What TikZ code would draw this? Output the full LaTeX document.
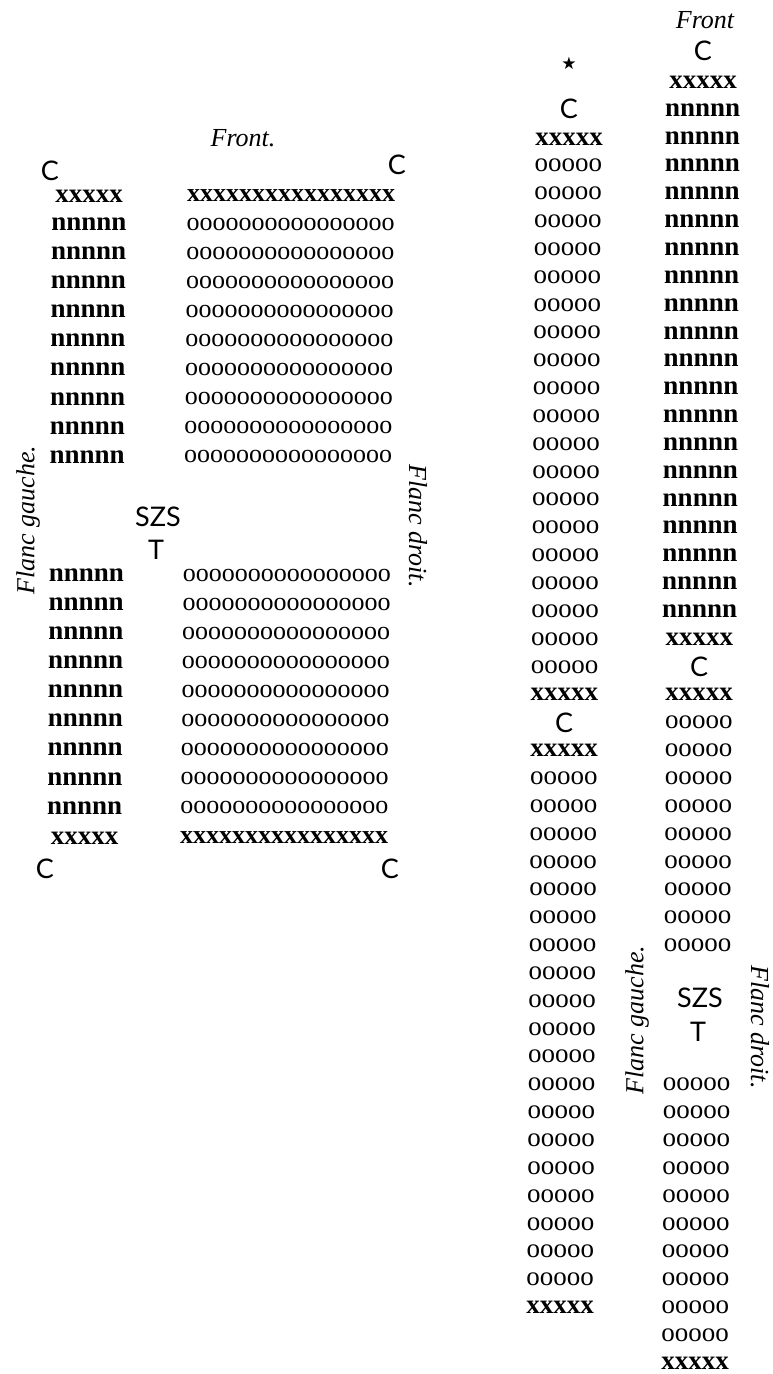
\documentclass[tikz,border=0pt]{standalone}
\usepackage{fontspec}
\setmainfont{Liberation Serif}
\newfontfamily\rowfont{Liberation Serif}
\newfontfamily\capfont{Lato}
\newfontfamily\starfont{DejaVu Sans}
\begin{document}
\begin{tikzpicture}[x=1pt,y=-1pt,
  rowo/.style={font=\rowfont\fontsize{27}{27}\selectfont, inner sep=0pt},
  longo/.style={font=\rowfont\fontsize{26}{26}\selectfont, inner sep=0pt},
  rown/.style={font=\rowfont\bfseries\fontsize{27}{27}\selectfont, inner sep=0pt},
  rowx/.style={font=\rowfont\bfseries\fontsize{27}{27}\selectfont, inner sep=0pt},
  longx/.style={font=\rowfont\bfseries\fontsize{26}{26}\selectfont, inner sep=0pt},
  capc/.style={font=\capfont\fontsize{27}{27}\selectfont, inner sep=0pt},
  lbl/.style={font=\rowfont\itshape\fontsize{26}{26}\selectfont, inner sep=0pt},
  starn/.style={font=\starfont\fontsize{17}{17}\selectfont, inner sep=0pt}]
\useasboundingbox (0,0) rectangle (772,1374);
% ---------------- left diagram ----------------
\node[lbl] (Lfront) at (243,138) {Front.};
\node[capc] (LCtl) at (50,171) {C};
\node[capc] (LCtr) at (397,165) {C};
\node[rowx] (LUxa) at (89,196) {xxxxx};
\node[longx] (LUxb) at (291,196) {xxxxxxxxxxxxxxxx};
\foreach \k in {1,...,9}{
  \pgfmathsetmacro\yy{195+29.1*\k}
  \pgfmathsetmacro\xa{89-4.5*(\yy-195)/643}
  \pgfmathsetmacro\xb{291-7*(\yy-195)/643}
  \node[rown] (LUn\k) at (\xa,\yy) {nnnnn};
  \node[longo] (LUo\k) at (\xb,\yy) {oooooooooooooooo};
}
\node[capc] (LSZS) at (158,517) {SZS};
\node[capc] (LT) at (156,550) {T};
\foreach \k in {0,...,8}{
  \pgfmathsetmacro\yy{575+29.1*\k}
  \pgfmathsetmacro\xa{89-4.5*(\yy-195)/643}
  \pgfmathsetmacro\xb{291-7*(\yy-195)/643}
  \node[rown] (LLn\k) at (\xa,\yy) {nnnnn};
  \node[longo] (LLo\k) at (\xb,\yy) {oooooooooooooooo};
}
\node[rowx] (LLxa) at (84.5,838) {xxxxx};
\node[longx] (LLxb) at (284,838) {xxxxxxxxxxxxxxxx};
\node[capc] (LCbl) at (45,869) {C};
\node[capc] (LCbr) at (390,869) {C};
\node[lbl,rotate=90] (LFg) at (28,520) {Flanc gauche.};
\node[lbl,rotate=-90] (LFd) at (418,526) {Flanc droit.};
% ---------------- right diagram ----------------
\node[lbl] (Rfront) at (705,20) {Front};
\node[capc] (RCtop) at (703,51) {C};
\node[starn] (Rstar) at (569,63) {★};
% left column
\node[capc] (ACa) at (569,109) {C};
\node[rowx] (Axa) at (569,139) {xxxxx};
\foreach \r in {3,...,21}{
  \pgfmathsetmacro\yy{82+27.85*\r}
  \pgfmathsetmacro\xx{569-9*(\yy-63)/1244}
  \node[rowo] (Ao\r) at (\xx,\yy) {ooooo};
}
\node[rowx] (Axb) at ({569-9*(694.7-63)/1244},694.7) {xxxxx};
\node[capc] (ACb) at ({569-9*(722.5-63)/1244},722.5) {C};
\node[rowx] (Axc) at ({569-9*(750.4-63)/1244},750.4) {xxxxx};
\foreach \r in {25,...,43}{
  \pgfmathsetmacro\yy{82+27.85*\r}
  \pgfmathsetmacro\xx{569-9*(\yy-63)/1244}
  \node[rowo] (Ap\r) at (\xx,\yy) {ooooo};
}
\node[rowx] (Axd) at ({569-9*(1307.4-63)/1244},1307.4) {xxxxx};
% right column
\node[rowx] (Bxa) at (703,82) {xxxxx};
\foreach \r in {1,...,19}{
  \pgfmathsetmacro\yy{82+27.85*\r}
  \pgfmathsetmacro\xx{703-8*(\yy-50)/1313}
  \node[rown] (Bn\r) at (\xx,\yy) {nnnnn};
}
\node[rowx] (Bxb) at ({703-8*(639-50)/1313},639) {xxxxx};
\node[capc] (BCb) at ({703-8*(666.8-50)/1313},666.8) {C};
\node[rowx] (Bxc) at ({703-8*(694.7-50)/1313},694.7) {xxxxx};
\foreach \r in {23,...,31}{
  \pgfmathsetmacro\yy{82+27.85*\r}
  \pgfmathsetmacro\xx{703-8*(\yy-50)/1313}
  \node[rowo] (Bo\r) at (\xx,\yy) {ooooo};
}
\node[capc] (RSZS) at (700,998) {SZS};
\node[capc] (RT) at (698,1032) {T};
\foreach \r in {36,...,45}{
  \pgfmathsetmacro\yy{82+27.85*\r}
  \pgfmathsetmacro\xx{703-8*(\yy-50)/1313}
  \node[rowo] (Bp\r) at (\xx,\yy) {ooooo};
}
\node[rowx] (Bxd) at (695,1363) {xxxxx};
\node[lbl,rotate=90] (RFg) at (637,1020) {Flanc gauche.};
\node[lbl,rotate=-90] (RFd) at (760,1027) {Flanc droit.};
\end{tikzpicture}
\end{document}
